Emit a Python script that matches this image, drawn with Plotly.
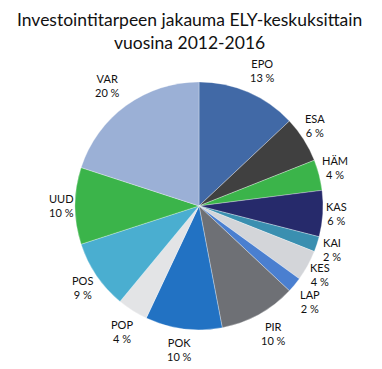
import math
import plotly.graph_objects as go

labels = ["EPO", "ESA", "HÄM", "KAS", "KAI", "KES", "LAP", "PIR", "POK", "POP", "POS", "UUD", "VAR"]
values = [13, 6, 4, 6, 2, 4, 2, 10, 10, 4, 9, 10, 20]
colors = ["#4169a6", "#404040", "#3bb44a", "#262a6b", "#3a8fb0", "#d3d5d9", "#4a7fd0",
          "#6e7075", "#2272c3", "#e3e4e6", "#4aaed0", "#3bb44a", "#9bb0d6"]
title_lines = ["Investointitarpeen jakauma ELY-keskuksittain", "vuosina 2012-2016"]

# layout nudges (pixels) for the outside labels, like the reference's label placement
label_nudge = {"EPO": (4, 2), "ESA": (-9, -1), "HÄM": (-3, -3), "KAS": (-3, -1),
               "KAI": (-5, -1), "KES": (-8, -2), "LAP": (-4, 1), "PIR": (2, -4),
               "POK": (-1, -4), "POP": (3, -1), "POS": (6, -2), "UUD": (2, 0), "VAR": (-3, 1)}

FONT = "Lato, Open Sans, sans-serif"
W, H = 382, 369
dom_x = [0.196, 0.846]
dom_y = [0.106, 0.778]

fig = go.Figure(go.Pie(
    labels=labels, values=values, sort=False, direction="clockwise", rotation=0,
    marker=dict(colors=colors, line=dict(color="rgba(255,255,255,0.6)", width=0.5)),
    textinfo="none", domain=dict(x=dom_x, y=dom_y),
    showlegend=False, hoverinfo="label+value"
))

# outside labels placed at slice mid-angles
cx = (dom_x[0] + dom_x[1]) / 2 * W
cy = (1 - (dom_y[0] + dom_y[1]) / 2) * H
R = min((dom_x[1] - dom_x[0]) * W, (dom_y[1] - dom_y[0]) * H) / 2
total = sum(values)
cum = 0
annotations = []
for lab, v in zip(labels, values):
    mid = (cum + v / 2) / total * 2 * math.pi
    cum += v
    s, c = math.sin(mid), math.cos(mid)
    r = R + 7 + abs(s) * 9 + abs(c) * 17
    nx, ny = label_nudge.get(lab, (0, 0))
    px = cx + r * s + nx
    py = cy - r * c + ny
    annotations.append(dict(
        x=px / W, y=1 - py / H, xref="paper", yref="paper",
        text=f"{lab}<br>{v} %", showarrow=False, xanchor="center", yanchor="middle",
        font=dict(family=FONT, size=11, color="#111"), align="center"))

annotations.append(dict(
    x=0.497, y=1 - 31 / H, xref="paper", yref="paper", showarrow=False,
    xanchor="center", yanchor="middle", align="center",
    text="<br>".join(title_lines),
    font=dict(family=FONT, size=17.5, color="#111")))

fig.update_layout(
    width=W, height=H, margin=dict(l=0, r=0, t=0, b=0),
    paper_bgcolor="white", annotations=annotations,
)
fig.write_html("out.html", post_script="document.body.style.margin='0';",
               config={"displayModeBar": False})
